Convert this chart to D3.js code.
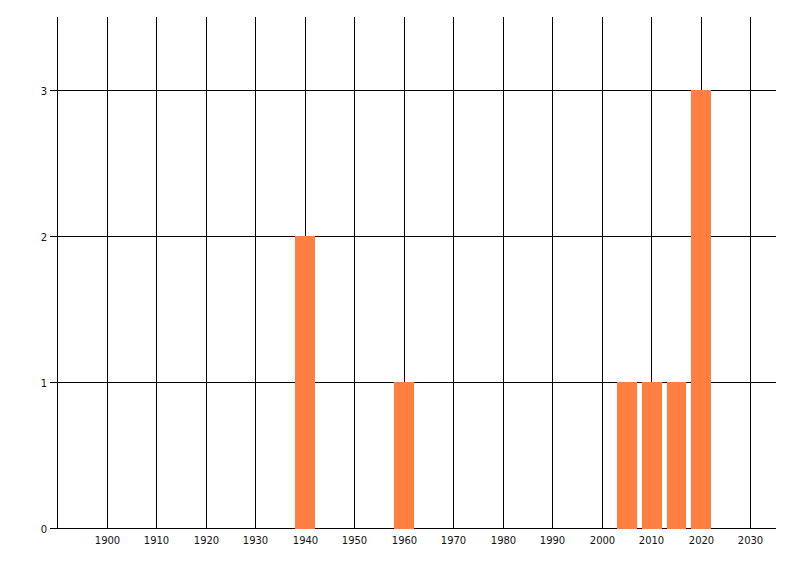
<!DOCTYPE html>
<html>
<head>
<meta charset="utf-8">
<script src="https://cdn.jsdelivr.net/npm/d3@7"></script>
<style>
  body { margin: 0; background: #fff; }
  svg { display: block; }
  text { font-family: "DejaVu Sans", sans-serif; font-size: 10px; fill: #111; }
</style>
</head>
<body>
<svg id="chart" width="800" height="576"></svg>
<script>
// data
const years = [1940, 1960, 2005, 2010, 2015, 2020];
const counts = [2, 1, 1, 1, 1, 3];
const xTicks = [1900, 1910, 1920, 1930, 1940, 1950, 1960, 1970, 1980, 1990, 2000, 2010, 2020, 2030];
const yTicks = [0, 1, 2, 3];

const svg = d3.select("#chart");

const x = d3.scaleLinear().domain([1890, 2035]).range([57.8, 775.4]);
const y = d3.scaleLinear().domain([0, 3.5]).range([528, 17]);

// snap to pixel for crisp 1px lines
const px = v => Math.floor(v) + 0.5;
const plotLeft = 57, plotRight = 776, plotTop = 17, plotBottom = 528;

const grid = svg.append("g").attr("stroke", "#000").attr("stroke-width", 1);

// vertical grid lines, incl. the y axis line itself
grid.selectAll(".vline")
    .data([1890].concat(xTicks))
    .join("line")
    .classed("vline", true)
    .attr("x1", d => px(x(d))).attr("x2", d => px(x(d)))
    .attr("y1", plotTop).attr("y2", plotBottom);

// horizontal grid lines (0 is the x axis)
grid.selectAll(".hline")
    .data(yTicks)
    .join("line")
    .classed("hline", true)
    .attr("x1", plotLeft - 7).attr("x2", plotRight)
    .attr("y1", d => px(y(d))).attr("y2", d => px(y(d)));

// bars, 4 years wide, centred on the year
const bars = years.map((yr, i) => ({ year: yr, count: counts[i] }));
svg.append("g")
    .selectAll("rect")
    .data(bars)
    .join("rect")
    .attr("x", d => Math.round(x(d.year - 2)))
    .attr("width", d => Math.round(x(d.year + 2)) - Math.round(x(d.year - 2)))
    .attr("y", d => Math.round(y(d.count)))
    .attr("height", d => Math.round(y(0)) - Math.round(y(d.count)) + 1)
    .attr("fill", "#ff7f40");

// tick labels
svg.append("g")
    .selectAll("text")
    .data(xTicks)
    .join("text")
    .attr("x", d => px(x(d)))
    .attr("y", 544)
    .attr("text-anchor", "middle")
    .text(d => d);

svg.append("g")
    .selectAll("text")
    .data(yTicks)
    .join("text")
    .attr("x", 47)
    .attr("y", d => px(y(d)) + 4)
    .attr("text-anchor", "end")
    .text(d => d);
</script>
</body>
</html>
